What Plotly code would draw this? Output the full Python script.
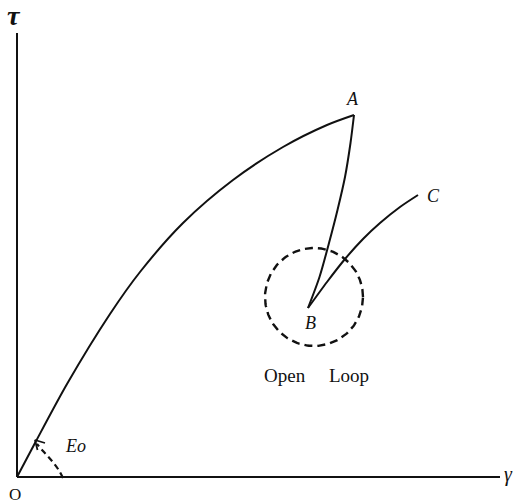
import numpy as np
import plotly.graph_objects as go

# Stress-strain path: loading O -> A, unloading A -> B, reloading B -> C
oa_gamma = [0, 18, 50, 93, 123, 166, 216, 266, 310, 337]
oa_tau = [0, 34, 93, 163, 205, 254, 297, 330, 352, 362]

ab_gamma = [337, 333.5, 328, 320.5, 312, 302.5, 291]
ab_tau = [362, 334, 300, 267, 234, 200, 169]

bc_gamma = [291, 310, 328, 346, 363, 383, 401]
bc_tau = [169, 195, 218, 238, 254, 270, 282]

# Open-loop marker around B
loop_center = (297, 180)
loop_radius = 49

# Initial modulus arc near the origin
eo_gamma = [46, 42, 37, 31.5, 25.5, 20]
eo_tau = [-1, 6.5, 13.5, 20, 26.5, 33]
eo_tip = (18, 37)

axis_len_gamma = 483
axis_len_tau = 444

SERIF = "Liberation Serif, Times New Roman, serif"
INK = "#111111"

fig = go.Figure()

line_style = dict(color=INK, width=2)

for gx, ty in ((oa_gamma, oa_tau), (ab_gamma, ab_tau), (bc_gamma, bc_tau)):
    fig.add_trace(go.Scatter(x=gx, y=ty, mode="lines",
                             line=dict(shape="spline", smoothing=0.8, **line_style)))

# dashed circle
t = np.linspace(0, 2 * np.pi, 200)
fig.add_trace(go.Scatter(x=loop_center[0] + loop_radius * np.cos(t),
                         y=loop_center[1] + loop_radius * np.sin(t),
                         mode="lines", line=dict(color=INK, width=2.4, dash="8px,5px")))

# dashed Eo arc with an open chevron at its end
fig.add_trace(go.Scatter(x=eo_gamma, y=eo_tau, mode="lines",
                         line=dict(color=INK, width=2.2, dash="6px,4px",
                                   shape="spline")))
fig.add_trace(go.Scatter(x=[eo_tip[0] + 10, eo_tip[0], eo_tip[0] + 2.5],
                         y=[eo_tip[1] - 3, eo_tip[1], eo_tip[1] - 10],
                         mode="lines", line=dict(color=INK, width=1.8)))

# axes
fig.add_shape(type="line", x0=0, y0=0, x1=axis_len_gamma, y1=0,
              line=dict(color=INK, width=2))
fig.add_shape(type="line", x0=0, y0=0, x1=0, y1=axis_len_tau,
              line=dict(color=INK, width=2))


def label(x, y, text, size=18, italic=True):
    txt = f"<i>{text}</i>" if italic else text
    fig.add_annotation(x=x, y=y, text=txt, showarrow=False, xref="x", yref="y",
                       font=dict(family=SERIF, size=size, color=INK))


label(oa_gamma[-1] - 2, oa_tau[-1] + 16, "A")
label(bc_gamma[-1] + 15, bc_tau[-1] - 1, "C")
label(ab_gamma[-1] + 2, ab_tau[-1] - 15, "B")
label(loop_center[0] + 2, 102, "Open" + "&#160;" * 5 + "Loop", size=19, italic=False)
label(58, 31, "Eo", size=18)
label(-3, 462, "<b>τ</b>", size=28)
label(491, 3, "γ", size=20)
label(-2, -17, "O", size=17, italic=False)

fig.update_layout(
    width=514, height=504,
    margin=dict(l=0, r=0, t=0, b=0),
    paper_bgcolor="white", plot_bgcolor="white",
    showlegend=False,
    xaxis=dict(range=[-17, 497], visible=False, fixedrange=True),
    yaxis=dict(range=[-27, 477], visible=False, fixedrange=True),
)

fig.write_html("out.html")
